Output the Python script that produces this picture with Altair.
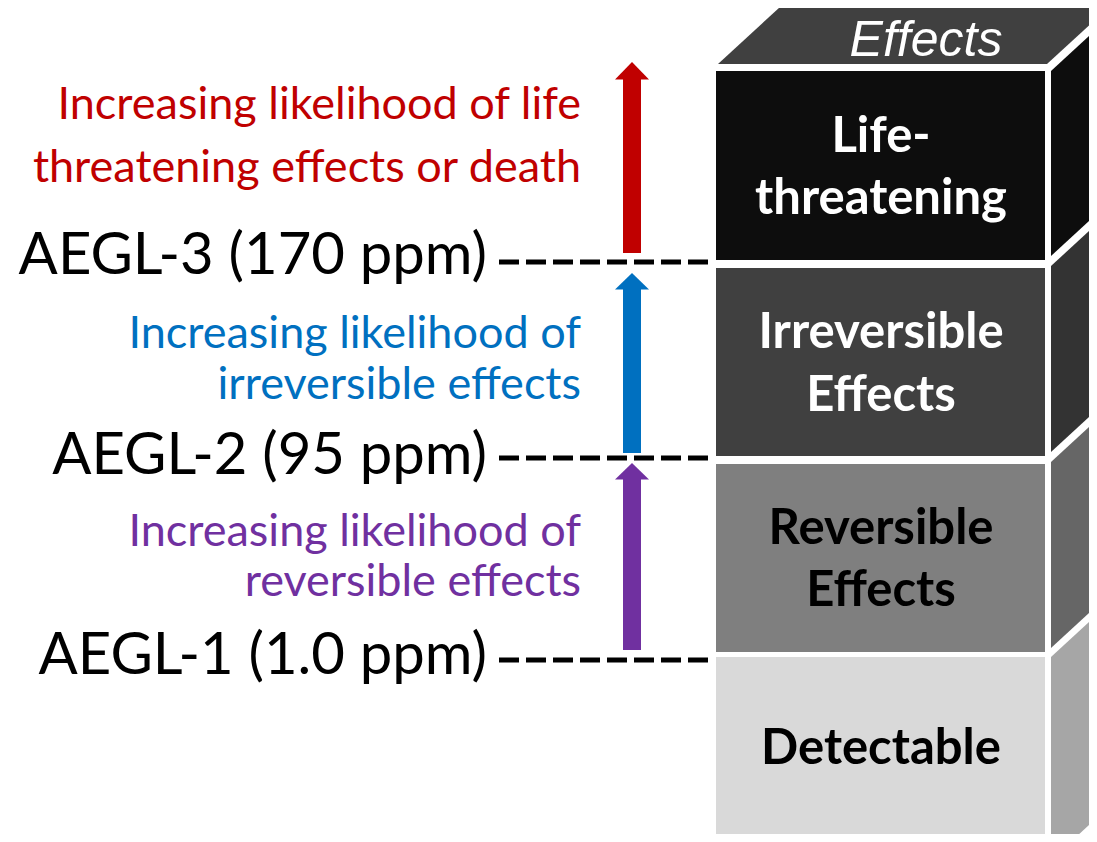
import altair as alt
import pandas as pd

# ---- canvas (pixel-like coordinate system) ----
X_DOMAIN = [8, 1089]
Y_DOMAIN = [8, 834]
W, H = 1081, 826

# ---- tiers of the effects block ----
tier_names = ["Life-threatening", "Irreversible Effects", "Reversible Effects", "Detectable"]
tier_top = [71, 268, 464, 657]
tier_bottom = [260, 456, 652, 860]
front_colors = ["#0d0d0d", "#404040", "#7f7f7f", "#d9d9d9"]
side_colors = ["#0d0d0d", "#333333", "#666666", "#a6a6a6"]
front_left, front_right = 716, 1045
side_near, side_far = 1051, 1113
side_top = [71, 266, 462, 657]
side_bottom = [256, 452, 648, 860]
depth_rise = 57

top_face_y = [64, 7]
top_face_x = [718, 780]
top_face_x2 = [1047, 1109]
top_face_color = "#404040"

# ---- AEGL levels ----
aegl_labels = ["AEGL-3 (170 ppm)", "AEGL-2 (95 ppm)", "AEGL-1 (1.0 ppm)"]
aegl_baseline = [274, 474, 674]
aegl_line_y = [262, 458, 660]
dash_x, dash_x2 = 499, 708

# ---- arrows ----
arrow_colors = ["#c00000", "#0070c0", "#7030a0"]
arrow_tip = [62, 273, 463]
arrow_head_base = [79, 289, 479]
arrow_tail = [253, 453, 650]
arrow_cx = 632
shaft_x, shaft_x2 = 623, 641
head_x, head_x2 = 615, 649

# ---- descriptive text ----
desc_lines = ["Increasing likelihood of life", "threatening effects or death",
              "Increasing likelihood of", "irreversible effects",
              "Increasing likelihood of", "reversible effects"]
desc_baseline = [119, 182, 348, 399, 546, 596]
desc_colors = ["#c00000", "#c00000", "#0070c0", "#0070c0", "#7030a0", "#7030a0"]
desc_right = 581

block_lines = ["Life-", "threatening", "Irreversible", "Effects", "Reversible", "Effects", "Detectable"]
block_baseline = [152, 214, 348, 411, 544, 606, 764]
block_colors = ["#ffffff", "#ffffff", "#ffffff", "#ffffff", "#000000", "#000000", "#000000"]
block_cx = 881

FONT = "Lato"

xs = alt.Scale(domain=X_DOMAIN, nice=False, zero=False)
ys = alt.Scale(domain=Y_DOMAIN, nice=False, zero=False, reverse=True)


def X(f):
    return alt.X(f, type="quantitative", scale=xs, axis=None)


def Y(f):
    return alt.Y(f, type="quantitative", scale=ys, axis=None, stack=None)


# front faces
front_df = pd.DataFrame({"name": tier_names, "y": tier_top, "y2": tier_bottom,
                         "x": front_left, "x2": front_right, "c": front_colors})
front = alt.Chart(front_df).mark_rect(clip=True).encode(
    x=X("x"), x2="x2", y=Y("y"), y2="y2", color=alt.Color("c:N", scale=None))

# side faces (parallelograms)
side_rows = []
for n, t, b, c in zip(tier_names, side_top, side_bottom, side_colors):
    side_rows.append({"name": n, "x": side_near, "y": t, "y2": b, "c": c})
    side_rows.append({"name": n, "x": side_far, "y": t - depth_rise, "y2": b - depth_rise, "c": c})
side = alt.Chart(pd.DataFrame(side_rows)).mark_area(orient="vertical", clip=True).encode(
    x=X("x"), y=Y("y"), y2="y2", color=alt.Color("c:N", scale=None), detail="name:N")

# top face
top_df = pd.DataFrame({"y": top_face_y, "x": top_face_x, "x2": top_face_x2})
top = alt.Chart(top_df).mark_area(orient="horizontal", color=top_face_color, clip=True).encode(
    y=Y("y"), x=alt.X("x", type="quantitative", scale=xs, axis=None, stack=None), x2="x2")

# dashed level lines
dash_df = pd.DataFrame({"label": aegl_labels, "y": aegl_line_y, "x": dash_x, "x2": dash_x2})
dashes = alt.Chart(dash_df).mark_rule(color="black", strokeWidth=5, strokeDash=[20, 7]).encode(
    x=X("x"), x2="x2", y=Y("y"))

# arrow shafts
shaft_df = pd.DataFrame({"c": arrow_colors, "y": arrow_head_base, "y2": arrow_tail,
                         "x": shaft_x, "x2": shaft_x2})
shafts = alt.Chart(shaft_df).mark_rect().encode(
    x=X("x"), x2="x2", y=Y("y"), y2="y2", color=alt.Color("c:N", scale=None))

# arrow heads (triangles)
head_rows = []
for c, tip, base in zip(arrow_colors, arrow_tip, arrow_head_base):
    head_rows.append({"c": c, "y": base + 0.5, "x": head_x, "x2": head_x2})
    head_rows.append({"c": c, "y": tip, "x": arrow_cx, "x2": arrow_cx})
heads = alt.Chart(pd.DataFrame(head_rows)).mark_area(orient="horizontal").encode(
    y=Y("y"), x=alt.X("x", type="quantitative", scale=xs, axis=None, stack=None), x2="x2",
    color=alt.Color("c:N", scale=None), detail="c:N")

# AEGL labels
aegl_df = pd.DataFrame({"t": aegl_labels, "y": aegl_baseline, "x": 487})
aegl_text = alt.Chart(aegl_df).mark_text(
    align="right", baseline="alphabetic", font=FONT, fontSize=58, color="black").encode(
    x=X("x"), y=Y("y"), text="t:N")

# descriptive colored text
desc_df = pd.DataFrame({"t": desc_lines, "y": desc_baseline, "c": desc_colors, "x": desc_right})
desc_text = alt.Chart(desc_df).mark_text(
    align="right", baseline="alphabetic", font=FONT, fontSize=45).encode(
    x=X("x"), y=Y("y"), text="t:N", color=alt.Color("c:N", scale=None))

# block labels
block_df = pd.DataFrame({"t": block_lines, "y": block_baseline, "c": block_colors, "x": block_cx})
block_text = alt.Chart(block_df).mark_text(
    align="center", baseline="alphabetic", font=FONT, fontSize=49, fontWeight="bold").encode(
    x=X("x"), y=Y("y"), text="t:N", color=alt.Color("c:N", scale=None))

# top face title
eff_df = pd.DataFrame({"t": ["Effects"], "x": [926], "y": [56]})
eff_text = alt.Chart(eff_df).mark_text(
    align="center", baseline="alphabetic", font="Liberation Sans", fontSize=50,
    fontStyle="italic", color="white").encode(x=X("x"), y=Y("y"), text="t:N")

chart = alt.layer(front, side, top, dashes, shafts, heads, aegl_text, desc_text,
                  block_text, eff_text).properties(
    width=W, height=H, padding=0, background="white"
).configure_view(stroke=None)

chart.save("out.html", embed_options={"renderer": "svg", "actions": False})
